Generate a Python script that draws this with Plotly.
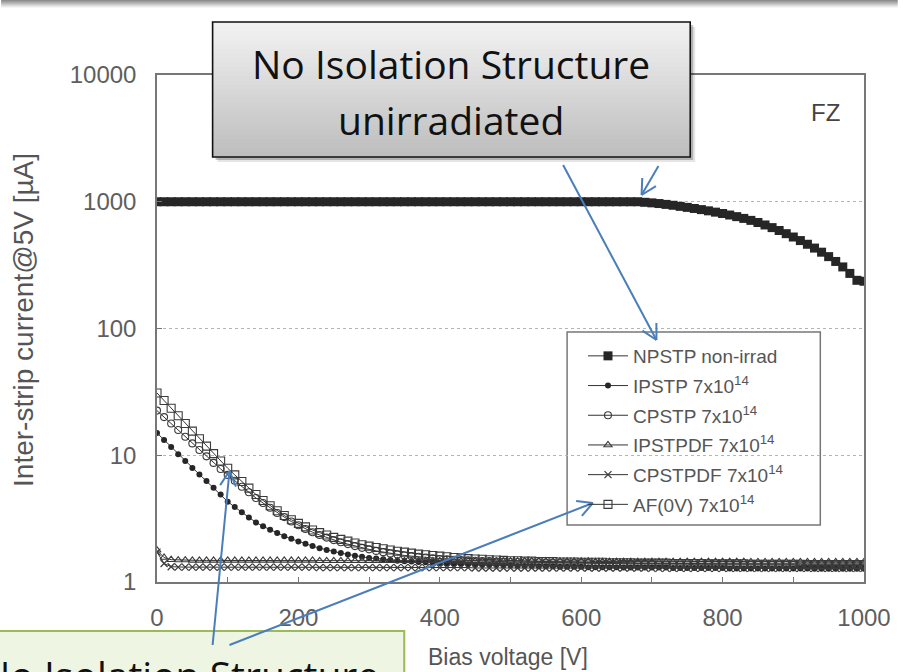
import math
import plotly.graph_objects as go

# Bias sweep (V)
bias_v = [
    0, 10, 20, 30, 40, 50, 60, 70, 80, 90,
    100, 110, 120, 130, 140, 150, 160, 170, 180, 190,
    200, 210, 220, 230, 240, 250, 260, 270, 280, 290,
    300, 310, 320, 330, 340, 350, 360, 370, 380, 390,
    400, 410, 420, 430, 440, 450, 460, 470, 480, 490,
    500, 510, 520, 530, 540, 550, 560, 570, 580, 590,
    600, 610, 620, 630, 640, 650, 660, 670, 680, 690,
    700, 710, 720, 730, 740, 750, 760, 770, 780, 790,
    800, 810, 820, 830, 840, 850, 860, 870, 880, 890,
    900, 910, 920, 930, 940, 950, 960, 970, 980, 990,
    1000,
]

# Inter-strip current @5V (uA) per structure
npstp_non_irrad = [
    1000, 1000, 1000, 1000, 1000, 1000, 1000, 1000, 1000, 1000,
    1000, 1000, 1000, 1000, 1000, 1000, 1000, 1000, 1000, 1000,
    1000, 1000, 1000, 1000, 1000, 1000, 1000, 1000, 1000, 1000,
    1000, 1000, 1000, 1000, 1000, 1000, 1000, 1000, 1000, 1000,
    1000, 1000, 1000, 1000, 1000, 1000, 1000, 1000, 1000, 1000,
    1000, 1000, 1000, 1000, 1000, 1000, 1000, 1000, 1000, 1000,
    1000, 1000, 1000, 1000, 1000, 1000, 1000, 1000, 1000, 990,
    980, 968, 953, 938, 920, 903, 885, 867, 848, 828,
    808, 786, 763, 739, 713, 686, 656, 625, 593, 560,
    527, 494, 462, 431, 400, 369, 338, 306, 272, 240,
    236,
]

ipstp = [
    15.0, 13.2, 11.6, 10.2, 9.0, 7.95, 7.05, 6.25, 5.55, 4.9,
    4.3, 3.9, 3.55, 3.23, 2.95, 2.75, 2.58, 2.43, 2.3, 2.19,
    2.09, 2.0, 1.92, 1.85, 1.79, 1.74, 1.69, 1.65, 1.61, 1.58,
    1.55, 1.53, 1.51, 1.49, 1.47, 1.46, 1.45, 1.44, 1.43, 1.42,
    1.41, 1.40, 1.39, 1.39, 1.38, 1.37, 1.37, 1.36, 1.36, 1.35,
    1.35, 1.34, 1.34, 1.34, 1.33, 1.33, 1.33, 1.32, 1.32, 1.32,
    1.32, 1.31, 1.31, 1.31, 1.31, 1.31, 1.30, 1.30, 1.30, 1.30,
    1.30, 1.30, 1.30, 1.29, 1.29, 1.29, 1.29, 1.29, 1.29, 1.29,
    1.29, 1.28, 1.28, 1.28, 1.28, 1.28, 1.28, 1.28, 1.28, 1.28,
    1.28, 1.28, 1.28, 1.27, 1.27, 1.27, 1.27, 1.27, 1.27, 1.27,
    1.27,
]

cpstp = [
    22.5, 20.0, 17.8, 15.8, 14.0, 12.4, 11.0, 9.8, 8.7, 7.8,
    7.0, 6.3, 5.65, 5.1, 4.6, 4.2, 3.85, 3.5, 3.25, 3.0,
    2.8, 2.62, 2.47, 2.35, 2.24, 2.14, 2.06, 1.99, 1.92, 1.86,
    1.81, 1.76, 1.72, 1.68, 1.65, 1.62, 1.60, 1.58, 1.56, 1.54,
    1.52, 1.51, 1.50, 1.49, 1.48, 1.47, 1.46, 1.46, 1.45, 1.45,
    1.44, 1.44, 1.43, 1.43, 1.43, 1.42, 1.42, 1.42, 1.41, 1.41,
    1.41, 1.41, 1.40, 1.40, 1.40, 1.40, 1.39, 1.39, 1.39, 1.39,
    1.39, 1.38, 1.38, 1.38, 1.38, 1.38, 1.37, 1.37, 1.37, 1.37,
    1.37, 1.37, 1.37, 1.36, 1.36, 1.36, 1.36, 1.36, 1.36, 1.36,
    1.36, 1.35, 1.35, 1.35, 1.35, 1.35, 1.35, 1.35, 1.35, 1.35,
    1.35,
]

ipstpdf = [
    1.78, 1.56, 1.50, 1.49, 1.49, 1.48, 1.48, 1.48, 1.48, 1.48,
    1.48, 1.48, 1.48, 1.48, 1.48, 1.48, 1.48, 1.48, 1.48, 1.48,
    1.48, 1.48, 1.48, 1.47, 1.47, 1.47, 1.47, 1.47, 1.47, 1.47,
    1.47, 1.47, 1.47, 1.47, 1.47, 1.47, 1.47, 1.47, 1.47, 1.47,
    1.47, 1.47, 1.47, 1.46, 1.46, 1.46, 1.46, 1.46, 1.46, 1.46,
    1.46, 1.46, 1.46, 1.46, 1.46, 1.46, 1.46, 1.46, 1.46, 1.46,
    1.46, 1.46, 1.45, 1.45, 1.45, 1.45, 1.45, 1.45, 1.45, 1.45,
    1.45, 1.45, 1.45, 1.45, 1.45, 1.45, 1.45, 1.45, 1.45, 1.45,
    1.45, 1.45, 1.45, 1.45, 1.44, 1.44, 1.44, 1.44, 1.44, 1.44,
    1.44, 1.44, 1.44, 1.44, 1.44, 1.44, 1.44, 1.44, 1.44, 1.44,
    1.44,
]

cpstpdf = [
    1.72, 1.40, 1.32, 1.31, 1.31, 1.31, 1.31, 1.31, 1.31, 1.31,
    1.31, 1.31, 1.31, 1.31, 1.31, 1.31, 1.31, 1.31, 1.31, 1.31,
    1.31, 1.31, 1.31, 1.30, 1.30, 1.30, 1.30, 1.30, 1.30, 1.30,
    1.30, 1.30, 1.30, 1.30, 1.30, 1.30, 1.30, 1.30, 1.30, 1.30,
    1.30, 1.30, 1.30, 1.30, 1.30, 1.29, 1.29, 1.29, 1.29, 1.29,
    1.29, 1.29, 1.29, 1.29, 1.29, 1.29, 1.29, 1.29, 1.29, 1.29,
    1.29, 1.29, 1.29, 1.29, 1.29, 1.29, 1.29, 1.29, 1.29, 1.29,
    1.28, 1.28, 1.28, 1.28, 1.28, 1.28, 1.28, 1.28, 1.28, 1.28,
    1.28, 1.28, 1.28, 1.28, 1.28, 1.28, 1.28, 1.28, 1.28, 1.28,
    1.28, 1.28, 1.28, 1.28, 1.28, 1.28, 1.28, 1.28, 1.28, 1.28,
    1.28,
]

af_0v = [
    31.0, 27.0, 23.5, 20.5, 17.8, 15.5, 13.5, 11.8, 10.3, 9.0,
    7.9, 7.0, 6.2, 5.5, 4.9, 4.4, 4.0, 3.65, 3.35, 3.1,
    2.9, 2.72, 2.57, 2.45, 2.35, 2.25, 2.17, 2.10, 2.03, 1.97,
    1.92, 1.87, 1.83, 1.79, 1.75, 1.72, 1.69, 1.66, 1.64, 1.62,
    1.60, 1.58, 1.56, 1.55, 1.53, 1.52, 1.51, 1.50, 1.49, 1.48,
    1.47, 1.47, 1.46, 1.46, 1.45, 1.45, 1.45, 1.44, 1.44, 1.44,
    1.43, 1.43, 1.43, 1.43, 1.42, 1.42, 1.42, 1.42, 1.41, 1.41,
    1.41, 1.41, 1.41, 1.40, 1.40, 1.40, 1.40, 1.40, 1.39, 1.39,
    1.39, 1.39, 1.39, 1.39, 1.38, 1.38, 1.38, 1.38, 1.38, 1.38,
    1.38, 1.38, 1.37, 1.37, 1.37, 1.37, 1.37, 1.37, 1.37, 1.37,
    1.37,
]

series_names = [
    "NPSTP non-irrad",
    "IPSTP 7x10<sup>14</sup>",
    "CPSTP 7x10<sup>14</sup>",
    "IPSTPDF 7x10<sup>14</sup>",
    "CPSTPDF 7x10<sup>14</sup>",
    "AF(0V) 7x10<sup>14</sup>",
]
series_values = [npstp_non_irrad, ipstp, cpstp, ipstpdf, cpstpdf, af_0v]

x_tick_vals = [0, 200, 400, 600, 800, 1000]
y_tick_vals = [1, 10, 100, 1000, 10000]
y_tick_text = ["1", "10", "100", "1000", "10000"]

# ---- page geometry (plot area in pixels) ----
W, H = 903, 672
L, R, T, B = 157, 869, 75, 582
PW, PH = R - L, B - T


def px(x):
    return (x - L) / PW


def py(y):
    return (B - y) / PH


markers = [
    dict(symbol="square", size=9, color="#262626"),
    dict(symbol="circle", size=6, color="#262626"),
    dict(symbol="circle-open", size=7, color="#3a3a3a", line=dict(width=1.1)),
    dict(symbol="triangle-up-open", size=7, color="#3a3a3a", line=dict(width=1.1)),
    dict(symbol="x-thin-open", size=7, color="#3a3a3a", line=dict(width=1.2)),
    dict(symbol="square-open", size=8, color="#3a3a3a", line=dict(width=1.1)),
]

fig = go.Figure()
for i, (name, vals, mk) in enumerate(zip(series_names, series_values, markers)):
    fig.add_trace(go.Scatter(
        x=bias_v, y=vals, name=name, mode="lines+markers", legendgroup=f"g{i}",
        line=dict(color="#333333", width=1), marker=mk,
    ))

sans = "Liberation Sans, Arial, sans-serif"
tick_font = dict(family=sans, size=24, color="#5e5e5e")

fig.update_layout(
    width=W, height=H,
    margin=dict(l=L, r=W - R, t=T, b=H - B),
    paper_bgcolor="white", plot_bgcolor="white",
    showlegend=True,
    legend=dict(
        x=px(586), y=py(337), xanchor="left", yanchor="top",
        bgcolor="rgba(0,0,0,0)", borderwidth=0,
        font=dict(family=sans, size=19, color="#555555"),
        itemwidth=40, tracegroupgap=2,
    ),
    xaxis=dict(
        range=[0, 1000], tickvals=x_tick_vals, ticks="inside", ticklen=5,
        tickcolor="#777777", showgrid=False, zeroline=False,
        showline=True, mirror=True, linecolor="#777777", linewidth=1.5,
        tickfont=tick_font, ticklabelstandoff=13,
        minor=dict(dtick=100, ticks="inside", ticklen=5, tickcolor="#777777", showgrid=False),
    ),
    yaxis=dict(
        type="log", range=[0, 4], tickvals=y_tick_vals, ticktext=y_tick_text,
        ticks="inside", ticklen=5, tickcolor="#777777",
        showgrid=True, gridcolor="#b5b5b5", griddash="dot", gridwidth=1,
        zeroline=False, showline=True, mirror=True,
        linecolor="#777777", linewidth=1.5,
        tickfont=tick_font, ticklabelstandoff=14,
    ),
)

shapes = []

# legend frame (opaque, over the gridlines)
shapes.append(dict(type="rect", xref="paper", yref="paper",
                   x0=px(570), x1=px(825), y0=py(525), y1=py(332),
                   fillcolor="white", line=dict(color="#777777", width=1.5), layer="between"))

# slide header band fading downward
header_greys = ["#8e8e8e", "#9c9c9c", "#ababab", "#bababa", "#cacaca", "#dadada", "#e9e9e9", "#f5f5f5"]
for i, c in enumerate(header_greys):
    shapes.append(dict(type="rect", xref="paper", yref="paper",
                       x0=px(0), x1=px(W), y0=py(i + 1), y1=py(i),
                       fillcolor=c, line=dict(width=0), layer="above"))

# callout box at the top: shadow, gradient fill, border
bx0, bx1, by0, by1 = 213, 694, 22, 157
for off, op in [(5, 0.10), (3, 0.22)]:
    shapes.append(dict(type="rect", xref="paper", yref="paper",
                       x0=px(bx0 + off), x1=px(bx1 + off), y0=py(by1 + off), y1=py(by0 + off),
                       fillcolor=f"rgba(0,0,0,{op})", line=dict(width=0), layer="above"))
n_strips = 30
for i in range(n_strips):
    t = i / (n_strips - 1)
    g = round(242 - t * (242 - 190))
    ya = by0 + (by1 - by0) * i / n_strips
    yb = by0 + (by1 - by0) * (i + 1) / n_strips
    shapes.append(dict(type="rect", xref="paper", yref="paper",
                       x0=px(bx0), x1=px(bx1), y0=py(yb + 0.5), y1=py(ya),
                       fillcolor=f"rgb({g},{g},{g})", line=dict(width=0), layer="above"))
shapes.append(dict(type="rect", xref="paper", yref="paper",
                   x0=px(bx0), x1=px(bx1), y0=py(by1), y1=py(by0),
                   fillcolor="rgba(0,0,0,0)", line=dict(color="#111111", width=1.6), layer="above"))

# callout box at the bottom left
shapes.append(dict(type="rect", xref="paper", yref="paper",
                   x0=px(-60), x1=px(406), y0=py(760), y1=py(631),
                   fillcolor="#eef5e3", line=dict(color="#9bbb59", width=2), layer="above"))

# pointer arrows with open heads
arrow_color = "#4a7ebb"


def arrow(x0, y0, x1, y1, head=17, spread=math.radians(28)):
    out = [dict(type="line", xref="paper", yref="paper",
                x0=px(x0), y0=py(y0), x1=px(x1), y1=py(y1),
                line=dict(color=arrow_color, width=2), layer="above")]
    ang = math.atan2(y0 - y1, x0 - x1)
    for s in (-spread, spread):
        hx = x1 + head * math.cos(ang + s)
        hy = y1 + head * math.sin(ang + s)
        out.append(dict(type="line", xref="paper", yref="paper",
                        x0=px(x1), y0=py(y1), x1=px(hx), y1=py(hy),
                        line=dict(color=arrow_color, width=2), layer="above"))
    return out


shapes += arrow(566, 165, 660, 340)
shapes += arrow(662, 166, 645, 195)
shapes += arrow(213, 645, 230, 471)
shapes += arrow(230, 645, 596, 503)

fig.update_layout(shapes=shapes)

callout_font = dict(family="Open Sans, Lato, sans-serif", size=39, color="#111111")

annotations = [
    dict(text="FZ", x=px(830), y=py(112), font=dict(family=sans, size=24, color="#444444")),
    dict(text="Bias voltage [V]", x=px(510), y=py(657), font=dict(family=sans, size=23, color="#555555")),
    dict(text="Inter-strip current@5V [µA]", x=px(22), y=py(320), textangle=-90,
         font=dict(family=sans, size=28, color="#555555")),
    dict(text="No Isolation Structure", x=px((bx0 + bx1) / 2), y=py(64), font=callout_font),
    dict(text="unirradiated", x=px((bx0 + bx1) / 2), y=py(119), font=callout_font),
    dict(text="No Isolation Structure", x=px(180), y=py(674), font=callout_font),
]
for a in annotations:
    a.update(xref="paper", yref="paper", showarrow=False, xanchor="center", yanchor="middle")
fig.update_layout(annotations=annotations)

fig.write_html("out.html")
